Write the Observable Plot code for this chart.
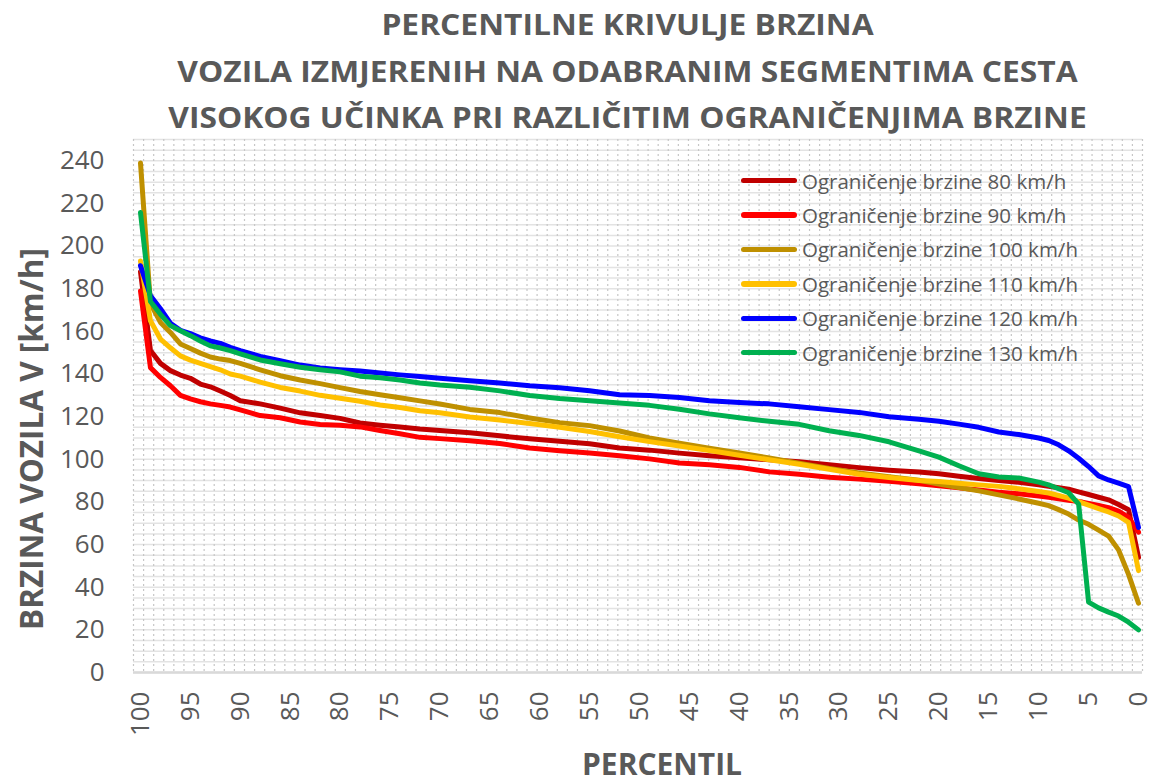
<!DOCTYPE html>
<html>
<head>
<meta charset="utf-8">
<script src="https://cdn.jsdelivr.net/npm/d3@7"></script>
<script src="https://cdn.jsdelivr.net/npm/@observablehq/plot@0.6"></script>
<style>
  html, body { margin: 0; padding: 0; background: #ffffff; }
  body { width: 1153px; height: 784px; position: relative; overflow: hidden; font-family: "Open Sans", sans-serif; color: #595959; }
  #title { position: absolute; left: 0; top: 0; width: 1153px; text-align: center; }
  #title div { height: 46.5px; line-height: 46.5px; font-size: 28px; font-weight: 700; color: #595959; white-space: nowrap; transform: translateX(51px) scaleX(1.135); transform-origin: 50% 50%; }
  #title div:first-child { margin-top: 1px; }
  #chart { position: absolute; left: 0; top: 130px; }
  #legend { position: absolute; left: 741px; top: 163.5px; }
  .item { display: flex; align-items: center; height: 34.4px; }
  .sw { width: 56px; height: 5.5px; border-radius: 3px; margin-right: 5px; }
  .lab { font-size: 20.5px; color: #595959; white-space: nowrap; }
</style>
</head>
<body>
<div id="title"></div>
<div id="chart"></div>
<div id="legend"></div>
<script>
// ---- data ----
const titleLines = [
  "PERCENTILNE KRIVULJE BRZINA",
  "VOZILA IZMJERENIH NA ODABRANIM SEGMENTIMA CESTA",
  "VISOKOG UČINKA PRI RAZLIČITIM OGRANIČENJIMA BRZINE"
];
const yAxisTitle = "BRZINA VOZILA V [km/h]";
const xAxisTitle = "PERCENTIL";

const seriesNames = [
  "Ograničenje brzine 80 km/h",
  "Ograničenje brzine 90 km/h",
  "Ograničenje brzine 100 km/h",
  "Ograničenje brzine 110 km/h",
  "Ograničenje brzine 120 km/h",
  "Ograničenje brzine 130 km/h"
];
const seriesColors = ["#C00000", "#FF0000", "#BF9000", "#FFC000", "#0000FF", "#00B050"];

const percentiles = [100, 99, 98, 97, 96, 95, 94, 93, 92, 91, 90,
  88, 86, 84, 82, 80, 78, 76, 74, 72, 70,
  67, 64, 61, 58, 55, 52, 49, 46, 43, 40, 37, 34, 31, 28, 25, 22,
  20, 18, 16, 14, 12, 10,
  9, 8, 7, 6, 5, 4, 3, 2, 1, 0];

const speed80 = [188, 151, 145, 141.6, 139.5, 138, 135.3, 134, 132, 129.9, 127.5,
  126, 124, 121.8, 120.5, 119.2, 117, 116, 115.2, 114.2, 113.5,
  112.5, 111, 109.6, 108.5, 107.3, 105.3, 104.3, 102.9, 101.7, 100.7, 99.8, 98.8, 97.4, 96.1, 94.9, 94,
  93.2, 92.1, 91, 90.1, 89.2, 88.1,
  87.4, 86.7, 86, 84.7, 83.5, 82.2, 81, 78.8, 76.3, 54];

const speed90 = [179, 143, 138.4, 134.5, 130, 128.3, 127, 126, 125.3, 124.5, 123.2,
  120.5, 119.5, 117.5, 116.3, 116, 115.2, 113.5, 112, 110.3, 109.7,
  108.7, 107.4, 105.3, 104, 103, 101.7, 100.2, 98.3, 97.4, 96.2, 94.1, 93, 91.6, 90.7, 89.7, 88.5,
  87.6, 86.6, 85.6, 84.6, 83.8, 82.8,
  82.2, 81.5, 80.8, 80.2, 79.3, 78.4, 77.3, 75.7, 72.8, 65.8];

const speed100 = [239, 173, 164.2, 159.5, 154.1, 152, 149.8, 148, 147, 146.3, 145,
  142, 139.2, 137.2, 135.5, 133.6, 131.8, 130.3, 128.9, 127.4, 125.9,
  123.4, 121.9, 119.4, 117.2, 115.8, 113.3, 110, 107.5, 105.2, 103, 100.6, 98.2, 95.7, 93.6, 91.8, 90.2,
  88.4, 86.8, 85.2, 83.3, 81.4, 79.4,
  78.3, 76.4, 74.3, 71.5, 69.5, 66.8, 64, 57.5, 46, 32.5];

const speed110 = [193, 165, 156.4, 152.3, 148.5, 146.5, 145, 143.5, 142, 140, 139,
  136.2, 133.7, 132, 130, 128.6, 127.2, 125.5, 124.3, 122.8, 121.8,
  119.8, 118.4, 116.8, 115, 113, 110.6, 108.3, 106.2, 104.1, 101.9, 99.8, 97.7, 95.3, 93, 91.5, 90.1,
  89.6, 88.8, 88, 87.3, 86.2, 84.9,
  84.2, 83, 81.8, 80.2, 78.5, 76.9, 75.3, 73.4, 70.4, 47.8];

const speed120 = [190.8, 176.7, 170.6, 163.8, 160.5, 159, 157, 155.5, 154.4, 152.5, 151,
  148.3, 146.3, 144.2, 142.8, 142, 141.4, 140.5, 139.6, 138.8, 138,
  136.8, 135.8, 134.5, 133.6, 132.2, 130.3, 129.9, 129, 127.5, 126.6, 126, 124.6, 123.3, 122, 120, 118.8,
  117.8, 116.5, 115, 112.8, 111.6, 110,
  108.8, 106.8, 104, 100.5, 96.6, 92.2, 90.3, 88.8, 87.2, 68];

const speed130 = [215.8, 174, 168, 162.7, 160.3, 158, 155.5, 153.2, 152.2, 151, 149.5,
  146.6, 144.8, 143.2, 142, 141, 139, 138.2, 137.2, 135.8, 134.8,
  133.8, 132.1, 129.9, 128.5, 127.5, 126.4, 125.3, 123.5, 121.3, 119.5, 117.8, 116.4, 113.4, 111.2, 108.2, 104,
  101, 97, 93.2, 91.7, 91.2, 89.3,
  88, 86.2, 84.3, 79, 33, 30.3, 28.3, 26.5, 23.6, 20];

const yTicks = [0, 20, 40, 60, 80, 100, 120, 140, 160, 180, 200, 220, 240];
const xTicks = [100, 95, 90, 85, 80, 75, 70, 65, 60, 55, 50, 45, 40, 35, 30, 25, 20, 15, 10, 5, 0];
const yDomain = [0, 250];
const xDomain = [100.7, -0.4];

// ---- build ----
const allSeries = [speed80, speed90, speed100, speed110, speed120, speed130];
const rows = [];
allSeries.forEach((vals, si) => {
  vals.forEach((v, i) => rows.push({series: seriesNames[si], p: percentiles[i], v}));
});

const yGrid = d3.range(yDomain[0], yDomain[1] + 0.001, 5);
const xGrid = d3.range(101).map(i => xDomain[0] + (xDomain[1] - xDomain[0]) * i / 100);

// title
const titleEl = document.getElementById("title");
titleLines.forEach(t => { const d = document.createElement("div"); d.textContent = t; titleEl.appendChild(d); });

const chart = Plot.plot({
  width: 1153,
  height: 654,
  marginTop: 9,
  marginBottom: 112,
  marginLeft: 133,
  marginRight: 11,
  style: {fontFamily: "'Open Sans', sans-serif", color: "#595959", background: "transparent", overflow: "visible"},
  x: {domain: xDomain, label: null},
  y: {domain: yDomain, label: null},
  color: {domain: seriesNames, range: seriesColors},
  marks: [
    Plot.gridY(yGrid, {stroke: "#e3e3e3", strokeOpacity: 1, strokeWidth: 1.5}),
    Plot.gridX(xGrid, {stroke: "#c6c6c6", strokeOpacity: 1, strokeWidth: 1.2, strokeDasharray: "2,3"}),
    Plot.ruleY([0], {stroke: "#d9d9d9", strokeWidth: 2.5}),
    Plot.axisY(yTicks, {tickSize: 0, tickPadding: 29, fontSize: 26, fill: "#595959", label: null}),
    Plot.axisX(xTicks, {tickSize: 0, tickPadding: 19, tickRotate: -90, fontSize: 26, fill: "#595959", label: null}),
    Plot.line(rows, {x: "p", y: "v", z: "series", stroke: "series", strokeWidth: 5, strokeLinejoin: "round", strokeLinecap: "round"}),
    Plot.text([yAxisTitle], {frameAnchor: "left", textAnchor: "middle", lineAnchor: "middle", dx: -101, dy: 33, rotate: -90, fontSize: 31.5, fontWeight: "bold", fill: "#595959"}),
    Plot.text([xAxisTitle], {frameAnchor: "bottom", textAnchor: "middle", lineAnchor: "middle", dx: 24, dy: 93, fontSize: 30, fontWeight: "bold", fill: "#595959"})
  ]
});
document.getElementById("chart").appendChild(chart);

// legend
const legendEl = document.getElementById("legend");
seriesNames.forEach((name, i) => {
  const item = document.createElement("div"); item.className = "item";
  const sw = document.createElement("div"); sw.className = "sw"; sw.style.background = seriesColors[i];
  const lab = document.createElement("div"); lab.className = "lab"; lab.textContent = name;
  item.appendChild(sw); item.appendChild(lab); legendEl.appendChild(item);
});
</script>
</body>
</html>
